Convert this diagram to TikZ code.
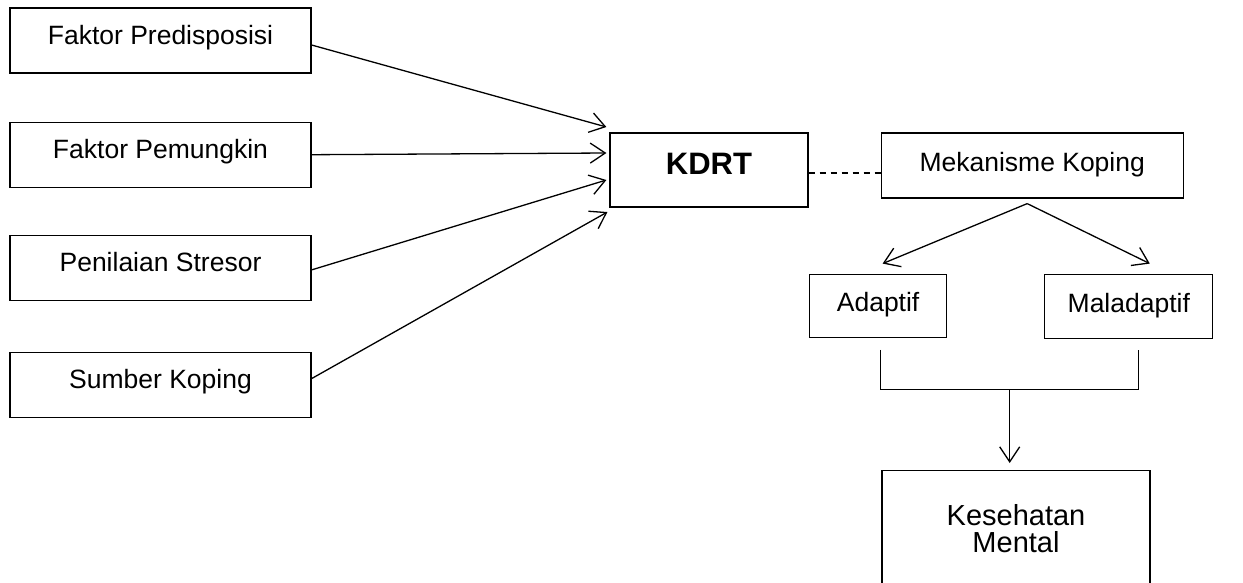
\documentclass[tikz,border=0pt]{standalone}
\usepackage{fontspec}
\setmainfont{Liberation Sans}
\usetikzlibrary{arrows.meta,calc,positioning}

\begin{document}
\begin{tikzpicture}[x=1pt,y=-1pt,>={Straight Barb[length=15pt,width=20pt]},line width=1.3pt,font=\fontsize{26.5}{30}\selectfont]
\tikzstyle{box}=[draw,line width=1.2pt,minimum width=301pt,minimum height=65pt,inner sep=0pt,align=center,text height=19pt,text depth=12pt]
\path[use as bounding box,clip] (0,0) rectangle (1243,582);
\node[box] (pred) at (160.5,40.5) {Faktor Predisposisi};
\node[box,below=48pt of pred] (pem) {Faktor Pemungkin};
\node[box,below=47pt of pem] (stre) {Penilaian Stresor};
\node[box,below=51pt of stre] (sumb) {Sumber Koping};
\node[box,minimum width=198pt,minimum height=74pt,text height=23pt,text depth=14pt,font=\fontsize{31}{36}\bfseries] (kdrt) at (709,170) {KDRT};
\node[box,minimum width=302pt,text depth=7pt,right=72pt of kdrt,yshift=4.5pt] (mek) {Mekanisme Koping};
\node[box,minimum width=137pt,minimum height=63pt,text depth=7pt,below left=75pt and 85pt of mek.south] (ada) {Adaptif};
\node[box,minimum width=168pt,minimum height=64pt,text depth=7pt,below right=75pt and 12pt of mek.south] (mal) {Maladaptif};
\node[box,minimum width=268pt,minimum height=116pt,text height=,text depth=,anchor=north,font=\fontsize{29}{27}\selectfont] (kes) at (1016,470) {Kesehatan\\Mental};
\draw[->] ($(pred.east)+(0,4.5)$) -- ($(kdrt.west)+(-3,-43)$);
\draw[->] (pem.east) -- ($(kdrt.west)+(-3,-17)$);
\draw[->] ($(stre.east)+(0,2)$) -- ($(kdrt.west)+(-3,10)$);
\draw[->] ($(sumb.east)+(0,-6.5)$) -- ($(kdrt.west)+(-2,42)$);
\coordinate (dl) at ($(kdrt.east)+(0,3)$);
\draw[dash pattern=on 6pt off 5pt] (dl) -- (dl -| mek.west);
\coordinate (mekout) at ($(mek.south)+(-5,5)$);
\draw[->] (mekout) -- ($(ada.north)+(4.5,-10)$);
\draw[->] (mekout) -- ($(mal.north)+(21,-10)$);
\coordinate (brL) at ($(ada.south)+(2.5,12)$);
\coordinate (brR) at ($(mal.south)+(10,11)$);
\draw (brL) -- ++(0,40) -| (brR);
\coordinate (brM) at ($(brL)!0.5!(brR)+(0,40)$);
\draw[->] (brM) -- ($(brM |- kes.north)+(0,-7)$);
\end{tikzpicture}
\end{document}
